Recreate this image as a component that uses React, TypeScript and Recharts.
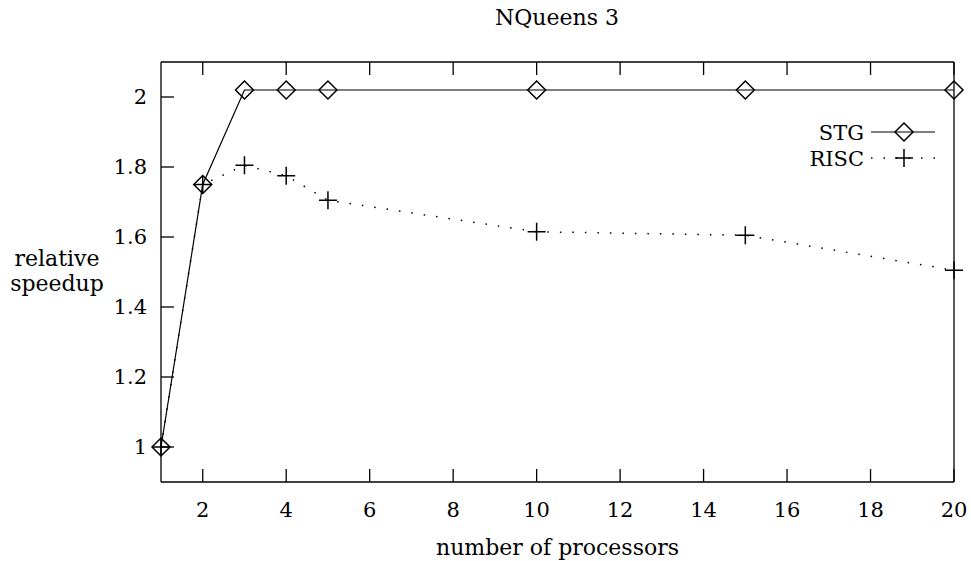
import React from "react";
import { LineChart, Line, XAxis, YAxis, Legend } from "recharts";

// values
const processors = [1, 2, 3, 4, 5, 10, 15, 20];
const stgSpeedup = [1.0, 1.75, 2.02, 2.02, 2.02, 2.02, 2.02, 2.02];
const riscSpeedup = [1.0, 1.75, 1.805, 1.775, 1.705, 1.615, 1.605, 1.505];
const xTicks = [2, 4, 6, 8, 10, 12, 14, 16, 18, 20];
const yTicks = [1, 1.2, 1.4, 1.6, 1.8, 2];
const legendOrder = ["stg", "risc"];

const data = processors.map((p, i) => ({
  p,
  stg: stgSpeedup[i],
  risc: riscSpeedup[i],
}));

const FONT = "DejaVu Serif, Liberation Serif, serif";
const TICK = 13;
const SW = 1.3;

const Diamond = ({ cx, cy, r = 9 }: any) => (
  <path
    d={`M${cx - r},${cy} L${cx},${cy - r} L${cx + r},${cy} L${cx},${cy + r} Z`}
    fill="none"
    stroke="#000"
    strokeWidth={1.5}
  />
);

const Plus = ({ cx, cy, r = 9 }: any) => (
  <path
    d={`M${cx - r},${cy} L${cx + r},${cy} M${cx},${cy - r} L${cx},${cy + r}`}
    fill="none"
    stroke="#000"
    strokeWidth={1.5}
  />
);

const txt = (size: number) => ({ fontFamily: FONT, fontSize: size, fill: "#000" });

// gnuplot style inward ticks
const BottomTick = ({ x, y, payload }: any) => (
  <g>
    <line x1={x} y1={y} x2={x} y2={y - TICK} stroke="#000" strokeWidth={SW} />
    <text x={x} y={y + 28} dy="0.35em" textAnchor="middle" style={txt(21)}>
      {payload.value}
    </text>
  </g>
);

const TopTick = ({ x, y }: any) => (
  <line x1={x} y1={y} x2={x} y2={y + TICK} stroke="#000" strokeWidth={SW} />
);

const LeftTick = ({ x, y, payload }: any) => (
  <g>
    <line x1={x} y1={y} x2={x + TICK} y2={y} stroke="#000" strokeWidth={SW} />
    <text x={x - 14} y={y} dy="0.35em" textAnchor="end" style={txt(21)}>
      {payload.value}
    </text>
  </g>
);

const RightTick = ({ x, y }: any) => (
  <line x1={x} y1={y} x2={x - TICK} y2={y} stroke="#000" strokeWidth={SW} />
);

const TitleLabel = ({ viewBox }: any) => (
  <text x={viewBox.x + viewBox.width / 2 - 0.5} y={25} textAnchor="middle" style={txt(22)}>
    NQueens 3
  </text>
);

const XLabel = ({ viewBox }: any) => (
  <text x={viewBox.x + viewBox.width / 2} y={viewBox.y + 73} textAnchor="middle" style={txt(22)}>
    number of processors
  </text>
);

const YLabel = ({ viewBox }: any) => {
  const cy = viewBox.y + viewBox.height / 2;
  return (
    <g>
      <text x={57} y={cy - 6} textAnchor="middle" style={txt(22)}>relative</text>
      <text x={57} y={cy + 19} textAnchor="middle" style={txt(22)}>speedup</text>
    </g>
  );
};

const renderLegend = ({ payload }: any) => {
  const items = legendOrder
    .map((k) => (payload || []).find((e: any) => e.dataKey === k))
    .filter(Boolean);
  return (
    <svg width={190} height={60} style={{ display: "block" }}>
      {items.map((entry: any, i: number) => {
        const y = 14 + i * 26;
        const dotted = entry.dataKey === "risc";
        return (
          <g key={entry.value}>
            <text x={84} y={y + 8} textAnchor="end" style={txt(21)}>
              {entry.value}
            </text>
            <line
              x1={91}
              y1={y}
              x2={155}
              y2={y}
              stroke="#000"
              strokeWidth={dotted ? 1.5 : 1.2}
              strokeDasharray={dotted ? "1.5 11" : undefined}
            />
            {dotted ? <Plus cx={124} cy={y} /> : <Diamond cx={124} cy={y} />}
          </g>
        );
      })}
    </svg>
  );
};

export default function App() {
  return (
    <div style={{ position: "absolute", left: 0, top: 0, background: "#fff" }}>
      <LineChart width={971} height={561} data={data} margin={{ top: 0, right: 0, bottom: 0, left: 0 }}>
        <XAxis
          dataKey="p"
          type="number"
          domain={[1, 20]}
          ticks={xTicks}
          interval={0}
          height={79}
          tickSize={0}
          tickMargin={0}
          tick={<BottomTick />}
          axisLine={{ stroke: "#000", strokeWidth: SW }}
          label={{ content: <XLabel /> }}
        />
        <XAxis
          xAxisId="top"
          orientation="top"
          dataKey="p"
          type="number"
          domain={[1, 20]}
          ticks={xTicks}
          interval={0}
          height={62}
          tickSize={0}
          tickMargin={0}
          tick={<TopTick />}
          axisLine={{ stroke: "#000", strokeWidth: SW }}
          label={{ content: <TitleLabel /> }}
        />
        <YAxis
          type="number"
          domain={[0.9, 2.1]}
          ticks={yTicks}
          interval={0}
          width={161}
          tickSize={0}
          tickMargin={0}
          tick={<LeftTick />}
          axisLine={{ stroke: "#000", strokeWidth: SW }}
          label={{ content: <YLabel /> }}
        />
        <YAxis
          yAxisId="right"
          orientation="right"
          type="number"
          domain={[0.9, 2.1]}
          ticks={yTicks}
          interval={0}
          width={17}
          tickSize={0}
          tickMargin={0}
          tick={<RightTick />}
          axisLine={{ stroke: "#000", strokeWidth: SW }}
        />
        <Legend
          layout="horizontal"
          verticalAlign="middle"
          align="center"
          content={renderLegend}
          wrapperStyle={{ top: 118, left: 780, width: 190, height: 60 }}
        />
        <Line
          dataKey="stg"
          name="STG"
          stroke="#000"
          strokeWidth={1.2}
          dot={(props: any) => <Diamond key={props.index} cx={props.cx} cy={props.cy} />}
          activeDot={false}
          isAnimationActive={false}
        />
        <Line
          dataKey="risc"
          name="RISC"
          stroke="#000"
          strokeWidth={1.5}
          strokeDasharray="1.5 11"
          dot={(props: any) => <Plus key={props.index} cx={props.cx} cy={props.cy} />}
          activeDot={false}
          isAnimationActive={false}
        />
      </LineChart>
    </div>
  );
}
